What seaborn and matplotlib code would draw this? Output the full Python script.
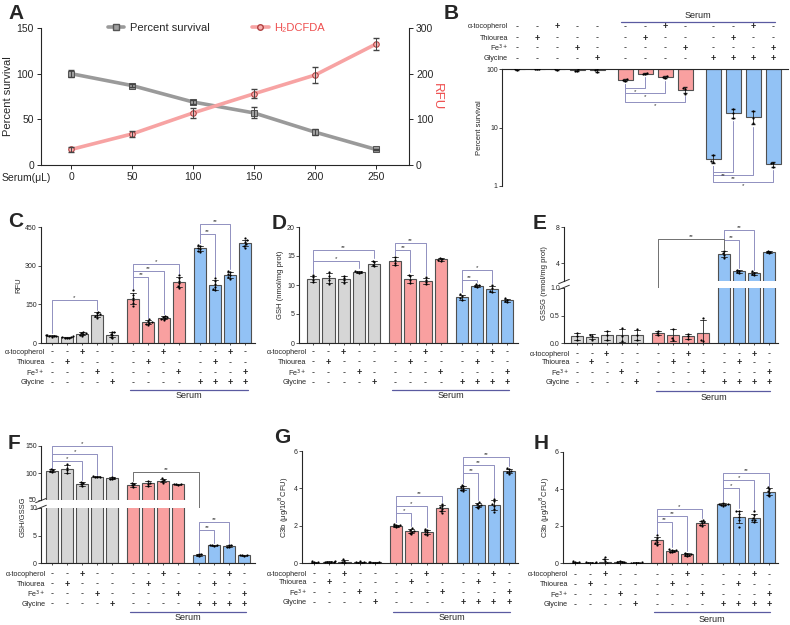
import numpy as np
import pandas as pd
import seaborn as sns
import matplotlib.pyplot as plt
from matplotlib.lines import Line2D
from matplotlib.transforms import blended_transform_factory as blend

sns.set_theme(style='ticks')
plt.rcParams['font.family'] = ['Liberation Sans', 'DejaVu Sans']
plt.rcParams['axes.linewidth'] = 0.8

# ---- panel A: dose response
serum_ul = [0, 50, 100, 150, 200, 250]
survival = [100, 87, 69, 57, 36, 17]
survival_sd = [4, 2, 2, 6, 3, 1]
h2dcfda = [34, 68, 114, 156, 197, 265]
h2dcfda_sd = [6, 7, 11, 10, 17, 14]

# ---- treatment table (13 conditions)
cond_labels = ['α-tocopherol', 'Thiourea', 'Fe$^{3+}$', 'Glycine']
toco = ['-', '-', '+', '-', '-', '-', '-', '+', '-', '-', '-', '+', '-']
thio = ['-', '+', '-', '-', '-', '-', '+', '-', '-', '-', '+', '-', '-']
fe3 = ['-', '-', '-', '+', '-', '-', '-', '-', '+', '-', '-', '-', '+']
gly = ['-', '-', '-', '-', '+', '-', '-', '-', '-', '+', '+', '+', '+']
grp = ['ctrl'] * 5 + ['serum'] * 4 + ['gly'] * 4
pos = [0, 1, 2, 3, 4, 5.4, 6.4, 7.4, 8.4, 9.8, 10.8, 11.8, 12.8]

# ---- replicate values per condition
surv_pts = [[98, 100, 102], [99, 100, 101], [98, 100, 103], [92, 94, 99], [90, 95, 100],
            [63, 65, 67], [82, 83, 84], [71, 73, 75], [38, 46, 48],
            [2.6, 2.7, 3.4], [14.5, 17.5, 21], [12.0, 14.5, 19.5], [2.1, 2.5, 2.5]]
rfu_pts = [[25, 27, 28, 29, 30, 31], [19, 20, 21, 22, 24, 26], [28, 32, 35, 37, 40, 44],
           [98, 104, 108, 112, 116, 122], [18, 24, 30, 36, 42, 44],
           [145, 155, 165, 175, 185, 207], [70, 74, 78, 81, 85, 92], [90, 94, 97, 99, 102, 106],
           [212, 220, 232, 242, 252, 264],
           [352, 358, 364, 370, 376, 382], [205, 210, 218, 228, 242, 253],
           [250, 256, 262, 268, 274, 280], [370, 378, 384, 392, 398, 406]]
gsh_pts = [[10.5, 10.9, 11.3, 11.7], [10.2, 10.8, 11.6, 12.2], [10.4, 10.8, 11.2, 11.6],
           [12.1, 12.2, 12.3, 12.4], [13.2, 13.5, 13.9, 14.2],
           [13.4, 13.8, 14.3, 14.9], [10.3, 10.8, 11.5, 11.8], [10.1, 10.5, 10.9, 11.3],
           [14.2, 14.3, 14.5, 14.6],
           [7.4, 7.7, 8.1, 8.4], [9.7, 9.8, 10.0, 10.1], [8.8, 9.0, 9.4, 10.0], [7.1, 7.3, 7.5, 7.7]]
gssg_pts = [[0.06, 0.12, 0.18], [0.06, 0.12, 0.15], [0.06, 0.14, 0.22], [0.03, 0.12, 0.27],
            [0.06, 0.14, 0.25],
            [0.14, 0.18, 0.22], [0.06, 0.10, 0.26], [0.07, 0.12, 0.17], [0.06, 0.03, 0.45],
            [4.6, 4.9, 5.1, 5.4], [2.9, 3.0, 3.2, 3.3], [2.7, 2.85, 2.95, 3.1], [5.1, 5.2, 5.3, 5.4]]
ratio_pts = [[101, 103, 105, 107], [100, 105, 110, 117], [76, 79, 81, 84], [92, 93, 93, 94],
             [88, 89, 91, 92],
             [74, 77, 79, 82], [76, 80, 82, 86], [82, 85, 87, 90], [78, 79, 79, 80],
             [1.3, 1.4, 1.6, 1.7], [3.1, 3.2, 3.2, 3.3], [2.9, 3.0, 3.2, 3.3], [1.3, 1.4, 1.4, 1.5]]
c3b_g_pts = [[-0.08, -0.02, 0.0, 0.03, 0.06, 0.1], [0.0, 0.03, 0.05, 0.06, 0.08, 0.1],
             [-0.15, -0.05, 0.0, 0.05, 0.12, 0.2], [-0.05, 0.0, 0.02, 0.04, 0.06, 0.1],
             [-0.02, 0.0, 0.02, 0.04, 0.06, 0.08],
             [1.92, 1.96, 1.99, 2.02, 2.05, 2.08], [1.55, 1.62, 1.68, 1.72, 1.78, 1.85],
             [1.5, 1.58, 1.64, 1.7, 1.76, 1.84], [2.7, 2.8, 2.9, 2.98, 3.05, 3.17],
             [3.85, 3.92, 3.98, 4.05, 4.12, 4.2], [2.95, 3.02, 3.08, 3.12, 3.18, 3.25],
             [2.75, 2.9, 3.05, 3.15, 3.3, 3.45], [4.78, 4.85, 4.9, 4.95, 5.02, 5.08]]
c3b_h_pts = [[-0.06, -0.02, 0.0, 0.03, 0.06, 0.1], [-0.03, 0.0, 0.01, 0.02, 0.04, 0.06],
             [-0.2, -0.08, 0.0, 0.1, 0.2, 0.3], [-0.06, 0.0, 0.03, 0.05, 0.08, 0.12],
             [-0.02, 0.0, 0.01, 0.02, 0.02, 0.03],
             [1.0, 1.08, 1.15, 1.25, 1.35, 1.49], [0.58, 0.62, 0.65, 0.68, 0.7, 0.73],
             [0.38, 0.42, 0.45, 0.47, 0.5, 0.54], [2.02, 2.08, 2.15, 2.2, 2.25, 2.32],
             [3.1, 3.13, 3.16, 3.18, 3.21, 3.24], [1.95, 2.3, 2.5, 2.65, 2.8, 2.8],
             [2.2, 2.3, 2.35, 2.45, 2.6, 2.8], [3.6, 3.7, 3.8, 3.9, 4.0, 4.1]]

# ---- significance brackets (bar i, bar j, line height, label)
surv_sig = [(5, 6, 47, '*'), (5, 7, 38.8, '*'), (5, 8, 26.8, '*'),
            (9, 10, 1.76, '**'), (9, 11, 1.54, '**'), (9, 12, 1.16, '*')]
rfu_sig = [(0, 3, 166, '*'), (5, 6, 256, '**'), (5, 7, 281, '**'), (5, 8, 307, '*'),
           (9, 10, 423, '**'), (9, 11, 463, '**')]
gsh_sig = [(0, 3, 14.1, '*'), (0, 4, 16.1, '**'), (5, 6, 16.1, '**'), (5, 7, 17.3, '**'),
           (9, 10, 10.9, '**'), (9, 11, 12.6, '*')]
gssg_sig = [(9, 10, 6.6, '**'), (9, 11, 7.7, '**')]
ratio_sig_up = [(0, 2, 122.8, '*'), (0, 3, 136, '*'), (0, 4, 150, '*')]
ratio_sig_low = [(9, 10, 6.06, '**'), (9, 11, 7.45, '**')]
c3b_g_sig = [(5, 6, 2.7, '*'), (5, 7, 3.05, '*'), (5, 8, 3.59, '**'),
             (9, 10, 4.8, '**'), (9, 11, 5.27, '**'), (9, 12, 5.68, '**')]
c3b_h_sig = [(5, 6, 2.19, '**'), (5, 7, 2.54, '**'), (5, 8, 2.9, '*'),
             (9, 10, 4.03, '*'), (9, 11, 4.48, '*'), (9, 12, 4.87, '**')]

pal = {'ctrl': '#d6d6d6', 'serum': '#f9a0a0', 'gly': '#92c2f5'}
brk_col = '#9090c0'
ser_col = '#5a5aa0'
red_txt = '#ee4f4f'

W, H = 790, 625
fig = plt.figure(figsize=(W / 100, H / 100), dpi=100)
fig.patch.set_facecolor('white')


def box(l, t, r, b):
    return fig.add_axes([l / W, 1 - b / H, (r - l) / W, (b - t) / H])


def long_df(pts):
    rows = [(pos[i], grp[i], v) for i, p in enumerate(pts) for v in p]
    return pd.DataFrame(rows, columns=['x', 'g', 'v'])


def tops_of(pts):
    return [np.mean(p) + np.std(p, ddof=1) for p in pts]


def draw_bars(ax, pts):
    df = long_df(pts)
    sns.barplot(data=df, x='x', y='v', hue='g', palette=pal, native_scale=True, dodge=False,
                errorbar='sd', capsize=0.4, saturation=1, edgecolor='#505050', linewidth=0.8,
                err_kws={'color': '#222222', 'linewidth': 0.6}, legend=False, ax=ax)
    sns.swarmplot(data=df, x='x', y='v', native_scale=True, color='black', size=1.6, ax=ax)


def frame(ax, xlim, ylim, yticks, ylabels=None, bottom=True):
    ax.set_xlim(*xlim)
    ax.set_ylim(*ylim)
    ax.set_yticks(yticks)
    if ylabels is not None:
        ax.set_yticklabels(ylabels)
    ax.set_xticks(pos)
    ax.set_xticklabels([])
    ax.set_xlabel('')
    ax.set_ylabel('')
    ax.tick_params(length=2, width=0.6, labelsize=5, pad=1, color='#333333')
    ax.tick_params(axis='x', length=1.5)
    ax.spines['top'].set_visible(False)
    ax.spines['right'].set_visible(False)
    if not bottom:
        ax.spines['bottom'].set_visible(False)
        ax.tick_params(axis='x', length=0)


def brackets(ax, pts, specs, pad):
    tops = tops_of(pts)
    for i, j, y, lab in specs:
        ax.plot([pos[i], pos[i], pos[j], pos[j]], [tops[i] + pad, y, y, tops[j] + pad],
                color=brk_col, lw=0.7, clip_on=False)
        ax.text((pos[i] + pos[j]) / 2, y, lab, ha='center', va='bottom', fontsize=4.5,
                color='#333333')


def to_ax(src, dst, x, y):
    p = src.transData.transform((x, y))
    return dst.transData.inverted().transform(p)[1]


def table(ax, rows_px, line_px, text_px, span):
    tr = blend(ax.transData, fig.transFigure)
    for lab, signs, ypx in zip(cond_labels, [toco, thio, fe3, gly], rows_px):
        y = 1 - ypx / H
        ax.text(-0.45, y, lab, transform=tr, ha='right', va='center', fontsize=5.2)
        for x, s in zip(pos, signs):
            ax.text(x, y, s, transform=tr, ha='center', va='center', fontsize=6.5,
                    fontweight='bold' if s == '+' else 'normal')
    ax.plot(span, [1 - line_px / H] * 2, transform=tr, color=ser_col, lw=0.9, clip_on=False)
    ax.text(np.mean(span), 1 - text_px / H, 'Serum', transform=tr, ha='center', va='center',
            fontsize=6.5)


def break_marks(ax_up, ax_low):
    kw = dict(color='#333333', lw=0.7, clip_on=False)
    ax_up.plot([-0.025, 0.025], [-0.05, 0.03], transform=ax_up.transAxes, **kw)
    ax_low.plot([-0.025, 0.025], [0.97, 1.05], transform=ax_low.transAxes, **kw)


# ================= A =================
axA = box(41, 28, 409, 165)
sns.lineplot(x=serum_ul, y=survival, ax=axA, color='#9a9a9a', lw=2.6, marker='s',
             markersize=4, markerfacecolor='#a0a0a0', markeredgecolor='#555555')
axA.errorbar(serum_ul, survival, yerr=survival_sd, fmt='none', ecolor='#444444',
             elinewidth=0.7, capsize=2)
axA2 = axA.twinx()
sns.lineplot(x=serum_ul, y=h2dcfda, ax=axA2, color='#f7a3a3', lw=2.6, marker='o',
             markersize=4, markerfacecolor='#f7b0b0', markeredgecolor='#b04040')
axA2.errorbar(serum_ul, h2dcfda, yerr=h2dcfda_sd, fmt='none', ecolor='#444444',
              elinewidth=0.7, capsize=2)
axA.set_xlim(-24.6, 277)
axA.set_ylim(0, 150)
axA2.set_ylim(0, 300)
axA.set_xticks(serum_ul)
axA.set_yticks([0, 50, 100, 150])
axA2.set_yticks([0, 100, 200, 300])
axA.spines['top'].set_visible(False)
axA2.spines['top'].set_visible(False)
axA2.spines['left'].set_visible(False)
axA2.spines['bottom'].set_visible(False)
axA.spines['right'].set_visible(False)
for a in (axA, axA2):
    a.tick_params(length=3, width=0.7, labelsize=7.5, pad=2)
axA.set_ylabel('Percent survival', fontsize=8, labelpad=3)
axA2.set_ylabel('')
fig.text(2 / W, 1 - 178 / H, 'Serum(μL)', fontsize=7.5, va='center', ha='left')
fig.text(437 / W, 1 - 97 / H, 'RFU', fontsize=9.5, va='center', ha='center', rotation=270,
         color=red_txt)
hA = [Line2D([0], [0], color='#9a9a9a', lw=2.6, marker='s', markersize=4,
             markerfacecolor='#a0a0a0', markeredgecolor='#555555'),
      Line2D([0], [0], color='#f7a3a3', lw=2.6, marker='o', markersize=4,
             markerfacecolor='#f7b0b0', markeredgecolor='#b04040')]
legA = axA.legend(hA, ['Percent survival', 'H₂DCFDA'], loc='center', ncol=2,
                  bbox_to_anchor=(0.476, 1.0), frameon=False, fontsize=8, handlelength=1.5,
                  handletextpad=0.5, columnspacing=3.8)
legA.get_texts()[1].set_color(red_txt)

# ================= B =================
axB = box(502, 69, 788, 186)
axB.set_yscale('log')
mB = np.array([np.mean(p) for p in surv_pts])
sB = np.array([np.std(p, ddof=1) for p in surv_pts])
axB.bar(pos, 100 - mB, bottom=mB, width=0.75, color=[pal[g] for g in grp],
        edgecolor='#505050', linewidth=0.8)
axB.errorbar(pos, mB, yerr=sB, fmt='none', ecolor='#222222', elinewidth=0.6, capsize=1.5)
dfB = long_df(surv_pts)
sns.swarmplot(data=dfB, x='x', y='v', native_scale=True, color='black', size=1.6, ax=axB)
axB.set_xlim(-0.75, 13.55)
axB.set_ylim(1, 100)
axB.set_yticks([1, 10, 100])
axB.set_yticklabels(['1', '10', '100'])
axB.minorticks_off()
axB.set_xticks([])
axB.set_xlabel('')
axB.set_ylabel('Percent survival', fontsize=5.5, labelpad=2)
axB.spines['bottom'].set_visible(False)
axB.spines['right'].set_visible(False)
axB.tick_params(length=2, width=0.6, labelsize=5, pad=1)
for i, j, y, lab in surv_sig:
    lo_i, lo_j = (mB[i] - sB[i]) * 0.88, (mB[j] - sB[j]) * 0.88
    axB.plot([pos[i], pos[i], pos[j], pos[j]], [lo_i, y, y, lo_j], color=brk_col, lw=0.7)
    axB.text((pos[i] + pos[j]) / 2, y * 0.96, lab, ha='center', va='top', fontsize=4.5,
             color='#333333')
table(axB, [27, 38, 48, 59], 22, 16, [5.2, 12.9])

# ================= C =================
axC = box(41, 227, 255, 343)
draw_bars(axC, rfu_pts)
frame(axC, (-0.71, 13.45), (0, 450), [0, 150, 300, 450])
axC.set_ylabel('RFU', fontsize=5.5, labelpad=2)
brackets(axC, rfu_pts, rfu_sig, 10)
table(axC, [352, 363, 373, 383], 390, 396, [5.2, 13.0])

# ================= D =================
axD = box(299, 227, 518, 343)
draw_bars(axD, gsh_pts)
frame(axD, (-0.95, 13.5), (0, 20), [0, 5, 10, 15, 20])
axD.set_ylabel('GSH (nmol/mg prot)', fontsize=5.5, labelpad=2)
brackets(axD, gsh_pts, gsh_sig, 0.5)
table(axD, [352, 362, 373, 383], 390, 396, [5.2, 12.9])

# ================= E (broken axis) =================
axEu = box(564, 227, 778, 281)
axEl = box(564, 288, 778, 343)
draw_bars(axEu, gssg_pts)
draw_bars(axEl, gssg_pts)
frame(axEu, (-0.84, 13.4), (2.05, 8), [4, 8], bottom=False)
frame(axEl, (-0.84, 13.4), (0, 1.0), [0, 0.5, 1.0], ['0.0', '0.5', '1.0'])
break_marks(axEu, axEl)
fig.text(545 / W, 1 - 283 / H, 'GSSG (nmol/mg prot)', rotation=90, fontsize=5.5,
         ha='center', va='center')
brackets(axEu, gssg_pts, gssg_sig, 0.2)
tE = tops_of(gssg_pts)
yl = to_ax(axEl, axEu, pos[5], tE[5] + 0.03)
axEu.plot([pos[5], pos[5], pos[9], pos[9]], [yl, 6.7, 6.7, tE[9] + 0.2], color='#707070',
          lw=0.7, clip_on=False)
axEu.text((pos[5] + pos[9]) / 2, 6.7, '**', ha='center', va='bottom', fontsize=4.5,
          color='#333333')
table(axEl, [354, 363, 373, 383], 391, 397, [5.3, 12.9])

# ================= F (broken axis) =================
axFu = box(41, 446, 255, 500)
axFl = box(41, 508, 255, 563)
draw_bars(axFu, ratio_pts)
draw_bars(axFl, ratio_pts)
frame(axFu, (-0.75, 13.5), (50, 150), [50, 100, 150], bottom=False)
frame(axFl, (-0.75, 13.5), (0, 10), [0, 5, 10])
break_marks(axFu, axFl)
fig.text(23 / W, 1 - 517 / H, 'GSH/GSSG', rotation=90, fontsize=5.5, ha='center', va='center')
brackets(axFu, ratio_pts, ratio_sig_up, 3)
brackets(axFl, ratio_pts, ratio_sig_low, 0.4)
tF = tops_of(ratio_pts)
yr = to_ax(axFl, axFu, pos[9], tF[9] + 0.4)
axFu.plot([pos[5], pos[5], pos[9], pos[9]], [tF[5] + 3, 102.5, 102.5, yr], color='#707070',
          lw=0.7, clip_on=False)
axFu.text((pos[5] + pos[9]) / 2, 102.5, '**', ha='center', va='bottom', fontsize=4.5,
          color='#333333')
table(axFl, [574, 584, 594, 604], 612, 618, [5.2, 12.9])

# ================= G =================
axG = box(302, 451, 518, 563)
draw_bars(axG, c3b_g_pts)
frame(axG, (-0.79, 13.4), (0, 6), [0, 2, 4, 6])
axG.set_ylabel('C3b (μg/10$^8$CFU)', fontsize=5.5, labelpad=2)
brackets(axG, c3b_g_pts, c3b_g_sig, 0.15)
table(axG, [574, 583, 593, 603], 612, 618, [5.2, 12.9])

# ================= H =================
axH = box(563, 452, 778, 563)
draw_bars(axH, c3b_h_pts)
frame(axH, (-0.79, 13.4), (0, 6), [0, 2, 4, 6])
axH.set_ylabel('C3b (μg/10$^8$CFU)', fontsize=5.5, labelpad=2)
brackets(axH, c3b_h_pts, c3b_h_sig, 0.15)
table(axH, [575, 585, 595, 605], 612, 619, [5.2, 12.9])

# panel letters
for lab, x, y in [('A', 8, 4), ('B', 444, 4), ('C', 8, 212), ('D', 272, 214),
                  ('E', 533, 214), ('F', 8, 434), ('G', 274, 428), ('H', 534, 434)]:
    fig.text(x / W, 1 - y / H, lab, fontsize=15, fontweight='bold', ha='left', va='top')

fig.savefig('out.png', dpi=100)
